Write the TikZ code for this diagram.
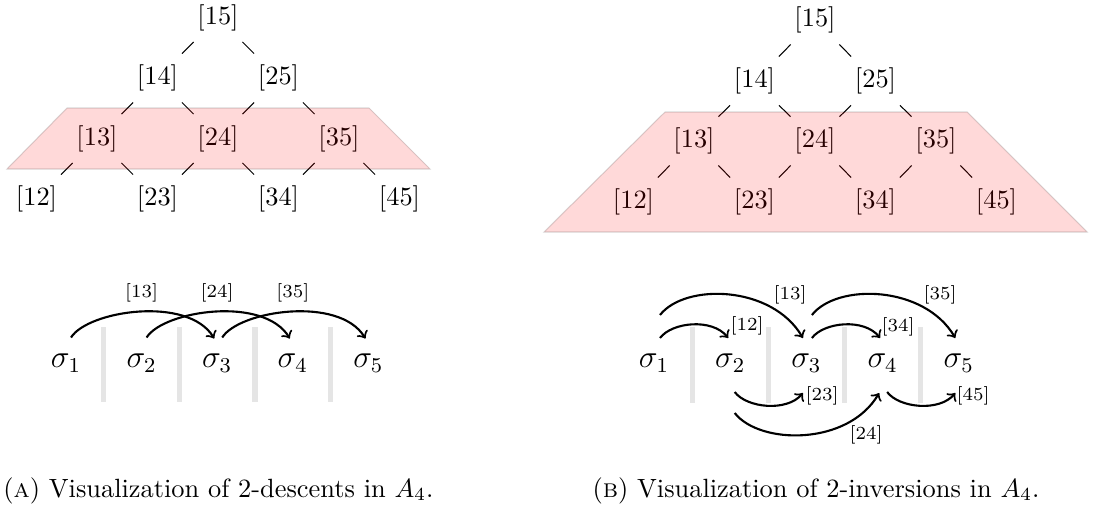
\documentclass[tikz,border=0pt]{standalone}
\usetikzlibrary{calc}
\begin{document}
\begin{tikzpicture}[x=0.379pt,y=-0.379pt,
  tn/.style={inner sep=0pt},
  hedge/.style={line width=0.4pt, shorten <=13.1pt, shorten >=13.1pt},
  sig/.style={inner sep=0pt, font=\large},
  arc/.style={->, line width=0.8pt},
  lbl/.style={font=\scriptsize, inner sep=0pt},
  gbar/.style={line width=1.9pt, gray!20},
  band/.style={fill=red, draw=black, opacity=0.15, line width=0.4pt}]
\useasboundingbox (0,0) rectangle (1094,505);

% ---------- Tree A ----------
\node[tn] (a15) at (218,17.5) {[15]};
\node[tn] (a14) at (157.5,78) {[14]};
\node[tn] (a25) at (278.5,78) {[25]};
\node[tn] (a13) at (97,138.5) {[13]};
\node[tn] (a24) at (218,138.5) {[24]};
\node[tn] (a35) at (339,138.5) {[35]};
\node[tn] (a12) at (36.5,199) {[12]};
\node[tn] (a23) at (157.5,199) {[23]};
\node[tn] (a34) at (278.5,199) {[34]};
\node[tn] (a45) at (399.5,199) {[45]};
\foreach \u/\v in {15/14,15/25,14/13,14/24,25/24,25/35,13/12,13/23,24/23,24/34,35/34,35/45}
  \draw[hedge] (a\u.center) -- (a\v.center);
\draw[band] (67,108) -- (369,108) -- (430,169) -- (7,169) -- cycle;

% ---------- Tree B ----------
\node[tn] (b15) at (815,20) {[15]};
\node[tn] (b14) at (754.5,81) {[14]};
\node[tn] (b25) at (875.5,81) {[25]};
\node[tn] (b13) at (694,141) {[13]};
\node[tn] (b24) at (815,141) {[24]};
\node[tn] (b35) at (936,141) {[35]};
\node[tn] (b12) at (633.5,202) {[12]};
\node[tn] (b23) at (754.5,202) {[23]};
\node[tn] (b34) at (875.5,202) {[34]};
\node[tn] (b45) at (996.5,202) {[45]};
\foreach \u/\v in {15/14,15/25,14/13,14/24,25/24,25/35,13/12,13/23,24/23,24/34,35/34,35/45}
  \draw[hedge] (b\u.center) -- (b\v.center);
\draw[band] (665,112) -- (967,112) -- (1087,232) -- (544,232) -- cycle;

% ---------- Sigmas A ----------
\node[sig] (s1) at (66,363.5) {$\sigma_1$};
\node[sig] (s2) at (141.6,363.5) {$\sigma_2$};
\node[sig] (s3) at (217.2,363.5) {$\sigma_3$};
\node[sig] (s4) at (292.8,363.5) {$\sigma_4$};
\node[sig] (s5) at (368.4,363.5) {$\sigma_5$};
\foreach \u/\v in {1/2,2/3,3/4,4/5}
  \draw[gbar] ($(s\u)!0.5!(s\v)+(0,-36.5)$) -- ($(s\u)!0.5!(s\v)+(0,38.5)$);
\draw[arc] ($(s1)+(5,-26)$) .. controls +(17,-27) and +(-26,-43) .. ($(s3)+(-3,-25)$);
\draw[arc] ($(s2)+(5,-26)$) .. controls +(17,-27) and +(-26,-43) .. ($(s4)+(-3,-25)$);
\draw[arc] ($(s3)+(5,-26)$) .. controls +(17,-27) and +(-26,-43) .. ($(s5)+(-3,-25)$);
\node[lbl] (la13) at ($(s2)+(0,-71)$) {[13]};
\node[lbl] (la24) at ($(s3)+(0,-71)$) {[24]};
\node[lbl] (la35) at ($(s4)+(0,-71)$) {[35]};

% ---------- Sigmas B ----------
\node[sig] (t1) at (654,363.5) {$\sigma_1$};
\node[sig] (t2) at (730.2,363.5) {$\sigma_2$};
\node[sig] (t3) at (806.4,363.5) {$\sigma_3$};
\node[sig] (t4) at (882.6,363.5) {$\sigma_4$};
\node[sig] (t5) at (958.8,363.5) {$\sigma_5$};
\foreach \u/\v in {1/2,2/3,3/4,4/5}
  \draw[gbar] ($(t\u)!0.5!(t\v)+(0,-36.5)$) -- ($(t\u)!0.5!(t\v)+(0,39.5)$);
\draw[arc] ($(t1)+(6,-25.5)$) .. controls +(12,-16) and +(-16,-20) .. ($(t2)+(-2,-25.5)$);
\draw[arc] ($(t1)+(6,-48.5)$) .. controls +(25,-32) and +(-31,-53) .. ($(t3)+(-3.5,-25.5)$);
\draw[arc] ($(t3)+(5.5,-48.5)$) .. controls +(25,-32) and +(-31,-53) .. ($(t5)+(-3.5,-25.5)$);
\draw[arc] ($(t3)+(5.5,-25.5)$) .. controls +(12,-16) and +(-16,-20) .. ($(t4)+(-2.5,-25.5)$);
\draw[arc] ($(t2)+(4.5,28.5)$) .. controls +(12,16) and +(-16,19) .. ($(t3)+(-3.5,29.5)$);
\draw[arc] ($(t4)+(4.5,28.5)$) .. controls +(12,16) and +(-16,19) .. ($(t5)+(-3.5,29.5)$);
\draw[arc] ($(t2)+(4.5,49.5)$) .. controls +(25,32) and +(-31,53) .. ($(t4)+(-3.5,29.5)$);
\node[lbl] (lb12) at ($(t2)+(16.8,-37.5)$) {[12]};
\node[lbl] (lb13) at ($(t3)+(-16.4,-68.5)$) {[13]};
\node[lbl] (lb35) at ($(t5)+(-18.8,-68.5)$) {[35]};
\node[lbl] (lb34) at ($(t4)+(15.4,-36.5)$) {[34]};
\node[lbl] (lb23) at ($(t3)+(15.6,32)$) {[23]};
\node[lbl] (lb45) at ($(t5)+(14.2,32)$) {[45]};
\node[lbl] (lb24) at ($(t4)+(-16.6,71.5)$) {[24]};

% ---------- Captions ----------
\node[anchor=base, inner sep=0pt] (capA) at (218.5,497) {(\textsc{a}) Visualization of 2-descents in $A_4$.};
\node[anchor=base, inner sep=0pt] (capB) at (816,497) {(\textsc{b}) Visualization of 2-inversions in $A_4$.};
\end{tikzpicture}
\end{document}
